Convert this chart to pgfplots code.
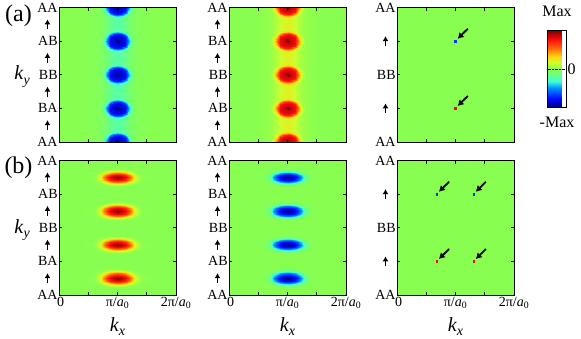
\documentclass[border=0pt]{standalone}
\usepackage{fontspec}
\setmainfont{Liberation Serif}
\usepackage{calc}
\usepackage{pgfplots}
\pgfplotsset{compat=1.18}
\usepackage{pgfplotstable}
\usetikzlibrary{arrows.meta}

\definecolor{bggreen}{rgb}{0.533,1,0.314}

% one period of the round blobs (top row), |value|
\pgfplotstableread[row sep=\\]{
x y v\\
0 -0.13 0\\ 0.4 -0.13 0\\ 0.6 -0.13 0.015\\ 0.7 -0.13 0.035\\ 0.76 -0.13 0.06\\ 0.82 -0.13 0.1\\ 0.88 -0.13 0.16\\ 0.94 -0.13 0.2\\ 1 -0.13 0.22\\ 1.06 -0.13 0.2\\ 1.12 -0.13 0.16\\ 1.18 -0.13 0.1\\ 1.24 -0.13 0.06\\ 1.3 -0.13 0.035\\ 1.4 -0.13 0.015\\ 1.6 -0.13 0\\ 2 -0.13 0\\
0 -0.1 0\\ 0.4 -0.1 0\\ 0.6 -0.1 0.015\\ 0.7 -0.1 0.035\\ 0.76 -0.1 0.06\\ 0.82 -0.1 0.1\\ 0.88 -0.1 0.16\\ 0.94 -0.1 0.2\\ 1 -0.1 0.22\\ 1.06 -0.1 0.2\\ 1.12 -0.1 0.16\\ 1.18 -0.1 0.1\\ 1.24 -0.1 0.06\\ 1.3 -0.1 0.035\\ 1.4 -0.1 0.015\\ 1.6 -0.1 0\\ 2 -0.1 0\\
0 -0.08 0\\ 0.4 -0.08 0\\ 0.6 -0.08 0.015\\ 0.7 -0.08 0.035\\ 0.76 -0.08 0.06\\ 0.82 -0.08 0.1\\ 0.88 -0.08 0.16\\ 0.94 -0.08 0.2\\ 1 -0.08 0.22\\ 1.06 -0.08 0.2\\ 1.12 -0.08 0.16\\ 1.18 -0.08 0.1\\ 1.24 -0.08 0.06\\ 1.3 -0.08 0.035\\ 1.4 -0.08 0.015\\ 1.6 -0.08 0\\ 2 -0.08 0\\
0 -0.065 0\\ 0.4 -0.065 0\\ 0.6 -0.065 0.015\\ 0.7 -0.065 0.035\\ 0.76 -0.065 0.06\\ 0.82 -0.065 0.1\\ 0.88 -0.065 0.19\\ 0.94 -0.065 0.34\\ 1 -0.065 0.41\\ 1.06 -0.065 0.34\\ 1.12 -0.065 0.19\\ 1.18 -0.065 0.1\\ 1.24 -0.065 0.06\\ 1.3 -0.065 0.035\\ 1.4 -0.065 0.015\\ 1.6 -0.065 0\\ 2 -0.065 0\\
0 -0.05 0\\ 0.4 -0.05 0\\ 0.6 -0.05 0.015\\ 0.7 -0.05 0.035\\ 0.76 -0.05 0.06\\ 0.82 -0.05 0.17\\ 0.88 -0.05 0.43\\ 0.94 -0.05 0.69\\ 1 -0.05 0.74\\ 1.06 -0.05 0.69\\ 1.12 -0.05 0.43\\ 1.18 -0.05 0.17\\ 1.24 -0.05 0.06\\ 1.3 -0.05 0.035\\ 1.4 -0.05 0.015\\ 1.6 -0.05 0\\ 2 -0.05 0\\
0 -0.035 0\\ 0.4 -0.035 0\\ 0.6 -0.035 0.015\\ 0.7 -0.035 0.035\\ 0.76 -0.035 0.07\\ 0.82 -0.035 0.3\\ 0.88 -0.035 0.71\\ 0.94 -0.035 0.8\\ 1 -0.035 0.82\\ 1.06 -0.035 0.8\\ 1.12 -0.035 0.71\\ 1.18 -0.035 0.3\\ 1.24 -0.035 0.07\\ 1.3 -0.035 0.035\\ 1.4 -0.035 0.015\\ 1.6 -0.035 0\\ 2 -0.035 0\\
0 -0.02 0\\ 0.4 -0.02 0\\ 0.6 -0.02 0.015\\ 0.7 -0.02 0.035\\ 0.76 -0.02 0.12\\ 0.82 -0.02 0.45\\ 0.88 -0.02 0.78\\ 0.94 -0.02 0.84\\ 1 -0.02 0.86\\ 1.06 -0.02 0.84\\ 1.12 -0.02 0.78\\ 1.18 -0.02 0.45\\ 1.24 -0.02 0.12\\ 1.3 -0.02 0.035\\ 1.4 -0.02 0.015\\ 1.6 -0.02 0\\ 2 -0.02 0\\
0 0 0\\ 0.4 0 0\\ 0.6 0 0.015\\ 0.7 0 0.035\\ 0.76 0 0.15\\ 0.82 0 0.55\\ 0.88 0 0.8\\ 0.94 0 0.86\\ 1 0 1\\ 1.06 0 0.86\\ 1.12 0 0.8\\ 1.18 0 0.55\\ 1.24 0 0.15\\ 1.3 0 0.035\\ 1.4 0 0.015\\ 1.6 0 0\\ 2 0 0\\
0 0.02 0\\ 0.4 0.02 0\\ 0.6 0.02 0.015\\ 0.7 0.02 0.035\\ 0.76 0.02 0.12\\ 0.82 0.02 0.45\\ 0.88 0.02 0.78\\ 0.94 0.02 0.84\\ 1 0.02 0.86\\ 1.06 0.02 0.84\\ 1.12 0.02 0.78\\ 1.18 0.02 0.45\\ 1.24 0.02 0.12\\ 1.3 0.02 0.035\\ 1.4 0.02 0.015\\ 1.6 0.02 0\\ 2 0.02 0\\
0 0.035 0\\ 0.4 0.035 0\\ 0.6 0.035 0.015\\ 0.7 0.035 0.035\\ 0.76 0.035 0.07\\ 0.82 0.035 0.3\\ 0.88 0.035 0.71\\ 0.94 0.035 0.8\\ 1 0.035 0.82\\ 1.06 0.035 0.8\\ 1.12 0.035 0.71\\ 1.18 0.035 0.3\\ 1.24 0.035 0.07\\ 1.3 0.035 0.035\\ 1.4 0.035 0.015\\ 1.6 0.035 0\\ 2 0.035 0\\
0 0.05 0\\ 0.4 0.05 0\\ 0.6 0.05 0.015\\ 0.7 0.05 0.035\\ 0.76 0.05 0.06\\ 0.82 0.05 0.17\\ 0.88 0.05 0.43\\ 0.94 0.05 0.69\\ 1 0.05 0.74\\ 1.06 0.05 0.69\\ 1.12 0.05 0.43\\ 1.18 0.05 0.17\\ 1.24 0.05 0.06\\ 1.3 0.05 0.035\\ 1.4 0.05 0.015\\ 1.6 0.05 0\\ 2 0.05 0\\
0 0.065 0\\ 0.4 0.065 0\\ 0.6 0.065 0.015\\ 0.7 0.065 0.035\\ 0.76 0.065 0.06\\ 0.82 0.065 0.1\\ 0.88 0.065 0.19\\ 0.94 0.065 0.34\\ 1 0.065 0.41\\ 1.06 0.065 0.34\\ 1.12 0.065 0.19\\ 1.18 0.065 0.1\\ 1.24 0.065 0.06\\ 1.3 0.065 0.035\\ 1.4 0.065 0.015\\ 1.6 0.065 0\\ 2 0.065 0\\
0 0.08 0\\ 0.4 0.08 0\\ 0.6 0.08 0.015\\ 0.7 0.08 0.035\\ 0.76 0.08 0.06\\ 0.82 0.08 0.1\\ 0.88 0.08 0.16\\ 0.94 0.08 0.2\\ 1 0.08 0.22\\ 1.06 0.08 0.2\\ 1.12 0.08 0.16\\ 1.18 0.08 0.1\\ 1.24 0.08 0.06\\ 1.3 0.08 0.035\\ 1.4 0.08 0.015\\ 1.6 0.08 0\\ 2 0.08 0\\
0 0.1 0\\ 0.4 0.1 0\\ 0.6 0.1 0.015\\ 0.7 0.1 0.035\\ 0.76 0.1 0.06\\ 0.82 0.1 0.1\\ 0.88 0.1 0.16\\ 0.94 0.1 0.2\\ 1 0.1 0.22\\ 1.06 0.1 0.2\\ 1.12 0.1 0.16\\ 1.18 0.1 0.1\\ 1.24 0.1 0.06\\ 1.3 0.1 0.035\\ 1.4 0.1 0.015\\ 1.6 0.1 0\\ 2 0.1 0\\
0 0.13 0\\ 0.4 0.13 0\\ 0.6 0.13 0.015\\ 0.7 0.13 0.035\\ 0.76 0.13 0.06\\ 0.82 0.13 0.1\\ 0.88 0.13 0.16\\ 0.94 0.13 0.2\\ 1 0.13 0.22\\ 1.06 0.13 0.2\\ 1.12 0.13 0.16\\ 1.18 0.13 0.1\\ 1.24 0.13 0.06\\ 1.3 0.13 0.035\\ 1.4 0.13 0.015\\ 1.6 0.13 0\\ 2 0.13 0\\
}\tabA

% one period of the flat ellipses (bottom row), |value|
\pgfplotstableread[row sep=\\]{
x y v\\
0 -0.13 0\\ 0.4 -0.13 0\\ 0.6 -0.13 0\\ 0.7 -0.13 0\\ 0.76 -0.13 0\\ 0.82 -0.13 0\\ 0.88 -0.13 0\\ 0.94 -0.13 0\\ 1 -0.13 0\\ 1.06 -0.13 0\\ 1.12 -0.13 0\\ 1.18 -0.13 0\\ 1.24 -0.13 0\\ 1.3 -0.13 0\\ 1.4 -0.13 0\\ 1.6 -0.13 0\\ 2 -0.13 0\\
0 -0.1 0\\ 0.4 -0.1 0\\ 0.6 -0.1 0\\ 0.7 -0.1 0\\ 0.76 -0.1 0\\ 0.82 -0.1 0\\ 0.88 -0.1 0\\ 0.94 -0.1 0\\ 1 -0.1 0\\ 1.06 -0.1 0\\ 1.12 -0.1 0\\ 1.18 -0.1 0\\ 1.24 -0.1 0\\ 1.3 -0.1 0\\ 1.4 -0.1 0\\ 1.6 -0.1 0\\ 2 -0.1 0\\
0 -0.08 0\\ 0.4 -0.08 0\\ 0.6 -0.08 0\\ 0.7 -0.08 0\\ 0.76 -0.08 0\\ 0.82 -0.08 0\\ 0.88 -0.08 0\\ 0.94 -0.08 0\\ 1 -0.08 0\\ 1.06 -0.08 0\\ 1.12 -0.08 0\\ 1.18 -0.08 0\\ 1.24 -0.08 0\\ 1.3 -0.08 0\\ 1.4 -0.08 0\\ 1.6 -0.08 0\\ 2 -0.08 0\\
0 -0.065 0\\ 0.4 -0.065 0\\ 0.6 -0.065 0\\ 0.7 -0.065 0\\ 0.76 -0.065 0\\ 0.82 -0.065 0\\ 0.88 -0.065 0.01\\ 0.94 -0.065 0.02\\ 1 -0.065 0.02\\ 1.06 -0.065 0.02\\ 1.12 -0.065 0.01\\ 1.18 -0.065 0\\ 1.24 -0.065 0\\ 1.3 -0.065 0\\ 1.4 -0.065 0\\ 1.6 -0.065 0\\ 2 -0.065 0\\
0 -0.05 0\\ 0.4 -0.05 0\\ 0.6 -0.05 0\\ 0.7 -0.05 0.01\\ 0.76 -0.05 0.03\\ 0.82 -0.05 0.09\\ 0.88 -0.05 0.14\\ 0.94 -0.05 0.18\\ 1 -0.05 0.2\\ 1.06 -0.05 0.18\\ 1.12 -0.05 0.14\\ 1.18 -0.05 0.09\\ 1.24 -0.05 0.03\\ 1.3 -0.05 0.01\\ 1.4 -0.05 0\\ 1.6 -0.05 0\\ 2 -0.05 0\\
0 -0.035 0\\ 0.4 -0.035 0\\ 0.6 -0.035 0\\ 0.7 -0.035 0.06\\ 0.76 -0.035 0.16\\ 0.82 -0.035 0.3\\ 0.88 -0.035 0.43\\ 0.94 -0.035 0.51\\ 1 -0.035 0.54\\ 1.06 -0.035 0.51\\ 1.12 -0.035 0.43\\ 1.18 -0.035 0.3\\ 1.24 -0.035 0.16\\ 1.3 -0.035 0.06\\ 1.4 -0.035 0\\ 1.6 -0.035 0\\ 2 -0.035 0\\
0 -0.02 0\\ 0.4 -0.02 0\\ 0.6 -0.02 0.01\\ 0.7 -0.02 0.14\\ 0.76 -0.02 0.35\\ 0.82 -0.02 0.56\\ 0.88 -0.02 0.7\\ 0.94 -0.02 0.775\\ 1 -0.02 0.8\\ 1.06 -0.02 0.775\\ 1.12 -0.02 0.7\\ 1.18 -0.02 0.56\\ 1.24 -0.02 0.35\\ 1.3 -0.02 0.14\\ 1.4 -0.02 0.01\\ 1.6 -0.02 0\\ 2 -0.02 0\\
0 0 0\\ 0.4 0 0\\ 0.6 0 0.02\\ 0.7 0 0.18\\ 0.76 0 0.45\\ 0.82 0 0.69\\ 0.88 0 0.815\\ 0.94 0 0.92\\ 1 0 1\\ 1.06 0 0.92\\ 1.12 0 0.815\\ 1.18 0 0.69\\ 1.24 0 0.45\\ 1.3 0 0.18\\ 1.4 0 0.02\\ 1.6 0 0\\ 2 0 0\\
0 0.02 0\\ 0.4 0.02 0\\ 0.6 0.02 0.01\\ 0.7 0.02 0.14\\ 0.76 0.02 0.35\\ 0.82 0.02 0.56\\ 0.88 0.02 0.7\\ 0.94 0.02 0.775\\ 1 0.02 0.8\\ 1.06 0.02 0.775\\ 1.12 0.02 0.7\\ 1.18 0.02 0.56\\ 1.24 0.02 0.35\\ 1.3 0.02 0.14\\ 1.4 0.02 0.01\\ 1.6 0.02 0\\ 2 0.02 0\\
0 0.035 0\\ 0.4 0.035 0\\ 0.6 0.035 0\\ 0.7 0.035 0.06\\ 0.76 0.035 0.16\\ 0.82 0.035 0.3\\ 0.88 0.035 0.43\\ 0.94 0.035 0.51\\ 1 0.035 0.54\\ 1.06 0.035 0.51\\ 1.12 0.035 0.43\\ 1.18 0.035 0.3\\ 1.24 0.035 0.16\\ 1.3 0.035 0.06\\ 1.4 0.035 0\\ 1.6 0.035 0\\ 2 0.035 0\\
0 0.05 0\\ 0.4 0.05 0\\ 0.6 0.05 0\\ 0.7 0.05 0.01\\ 0.76 0.05 0.03\\ 0.82 0.05 0.09\\ 0.88 0.05 0.14\\ 0.94 0.05 0.18\\ 1 0.05 0.2\\ 1.06 0.05 0.18\\ 1.12 0.05 0.14\\ 1.18 0.05 0.09\\ 1.24 0.05 0.03\\ 1.3 0.05 0.01\\ 1.4 0.05 0\\ 1.6 0.05 0\\ 2 0.05 0\\
0 0.065 0\\ 0.4 0.065 0\\ 0.6 0.065 0\\ 0.7 0.065 0\\ 0.76 0.065 0\\ 0.82 0.065 0\\ 0.88 0.065 0.01\\ 0.94 0.065 0.02\\ 1 0.065 0.02\\ 1.06 0.065 0.02\\ 1.12 0.065 0.01\\ 1.18 0.065 0\\ 1.24 0.065 0\\ 1.3 0.065 0\\ 1.4 0.065 0\\ 1.6 0.065 0\\ 2 0.065 0\\
0 0.08 0\\ 0.4 0.08 0\\ 0.6 0.08 0\\ 0.7 0.08 0\\ 0.76 0.08 0\\ 0.82 0.08 0\\ 0.88 0.08 0\\ 0.94 0.08 0\\ 1 0.08 0\\ 1.06 0.08 0\\ 1.12 0.08 0\\ 1.18 0.08 0\\ 1.24 0.08 0\\ 1.3 0.08 0\\ 1.4 0.08 0\\ 1.6 0.08 0\\ 2 0.08 0\\
0 0.1 0\\ 0.4 0.1 0\\ 0.6 0.1 0\\ 0.7 0.1 0\\ 0.76 0.1 0\\ 0.82 0.1 0\\ 0.88 0.1 0\\ 0.94 0.1 0\\ 1 0.1 0\\ 1.06 0.1 0\\ 1.12 0.1 0\\ 1.18 0.1 0\\ 1.24 0.1 0\\ 1.3 0.1 0\\ 1.4 0.1 0\\ 1.6 0.1 0\\ 2 0.1 0\\
0 0.13 0\\ 0.4 0.13 0\\ 0.6 0.13 0\\ 0.7 0.13 0\\ 0.76 0.13 0\\ 0.82 0.13 0\\ 0.88 0.13 0\\ 0.94 0.13 0\\ 1 0.13 0\\ 1.06 0.13 0\\ 1.12 0.13 0\\ 1.18 0.13 0\\ 1.24 0.13 0\\ 1.3 0.13 0\\ 1.4 0.13 0\\ 1.6 0.13 0\\ 2 0.13 0\\
}\tabB

\newcommand{\upar}{\makebox[\widthof{AA}]{\tikz[baseline=0pt]\draw[-{Latex[length=5pt,width=6pt]},line width=1.8pt] (0,-5pt)--(0,5pt);}}
\newcommand{\ky}{\fontsize{20}{22}\selectfont\textit{k}\raisebox{-0.22em}{\fontsize{14}{15}\selectfont\textit{y}}}
\newcommand{\kx}{\fontsize{20}{22}\selectfont\textit{k}\raisebox{-0.22em}{\fontsize{14}{15}\selectfont\textit{x}}}
\newcommand{\pia}{π/\textit{a}\textsubscript{0}}

\pgfplotsset{
  colormap={hm}{rgb(0pt)=(0,0,0.5); rgb(120pt)=(0,0.05,1); rgb(250pt)=(0,0.55,1); rgb(340pt)=(0.25,1,0.85); rgb(420pt)=(0.4,1,0.55); rgb(500pt)=(0.533,1,0.314); rgb(580pt)=(0.8,1,0.18); rgb(660pt)=(1,0.85,0.05); rgb(760pt)=(1,0.45,0.05); rgb(880pt)=(1,0.05,0.05); rgb(1000pt)=(0.5,0,0)},
  panel/.style={
    scale only axis, width=117pt, height=134.5pt,
    xmin=0, xmax=2, ymin=0, ymax=1,
    anchor=south west,
    axis on top,
    axis background/.style={fill=bggreen},
    tick align=inside, tick pos=both,
    major tick length=3pt,
    tick style={black, line width=0.7pt},
    axis line style={line width=0.9pt, black},
    xtick={0,0.5,1,1.5,2},
    ytick={0,0.25,0.5,0.75,1},
    tick label style={font=\fontsize{14}{15.5}\selectfont},
    yticklabel style={inner sep=1.2pt},
    xticklabel style={inner sep=2pt},
    point meta min=-1, point meta max=1,
  },
  arrowsy/.style={
    extra y ticks={0.125,0.375,0.625,0.875},
    extra y tick labels={\upar,\upar,\upar,\upar},
    extra y tick style={major tick length=0pt},
  },
  toprow/.style={xticklabels={,,,,}},
  botrow/.style={xticklabels={\hspace*{3pt}0,,\pia,,2\pia},
    xlabel={\kx}, xlabel style={at={(axis description cs:0.5,0)}, anchor=base, yshift=-36pt}},
  kylab/.style={ylabel={\ky}, ylabel style={rotate=-90, at={(axis description cs:-0.316,0.485)}, anchor=center}},
  heat/.style={surf, shader=interp, mesh/cols=17, mesh/ordering=x varies},
  qv/.style={black, line width=1.8pt, -{Latex[length=6pt,width=7pt]}, quiver={u=\thisrow{u}, v=\thisrow{v}}},
  dot/.style={only marks, mark=square*, mark size=0.9pt},
}

\begin{document}
\begin{tikzpicture}
\path[use as bounding box] (0pt,0pt) rectangle (581pt,-338pt);

\node[font=\fontsize{24}{26}\selectfont] at (18.5pt,-16pt) {(a)};
\node[font=\fontsize{24}{26}\selectfont] at (18.5pt,-168pt) {(b)};

% (a) left
\begin{axis}[panel, toprow, kylab, arrowsy, at={(59pt,-142pt)},
  yticklabels={AA,BA,BB,AB,AA}]
\pgfplotsinvokeforeach{0,0.25,0.5,0.75,1}{
  \addplot[heat, point meta=-\thisrow{v}] table[x=x, y expr=\thisrow{y}+#1] {\tabA};
}
\end{axis}

% (a) middle
\begin{axis}[panel, toprow, arrowsy, at={(229pt,-142pt)},
  yticklabels={AA,AB,BB,BA,AA}]
\pgfplotsinvokeforeach{0,0.25,0.5,0.75,1}{
  \addplot[heat, point meta=\thisrow{v}] table[x=x, y expr=\thisrow{y}+#1] {\tabA};
}
\end{axis}

% (a) right
\begin{axis}[panel, toprow, at={(397pt,-142pt)},
  yticklabels={AA,\upar,BB,\upar,AA},
  colorbar,
  colorbar style={
    at={(parent axis.north east)}, anchor=north west, xshift=25pt, yshift=-23pt,
    scale only axis, width=19pt, height=77pt,
    axis on top,
    ytick={0}, yticklabels={0},
    ymajorgrids, major grid style={densely dotted, black, line width=0.9pt},
    major tick length=0pt, tick style={draw=none},
    axis line style={line width=0.6pt, black},
    yticklabel style={font=\fontsize{16}{17}\selectfont, inner sep=1pt},
    title={Max}, title style={at={(0.5,1)}, anchor=base, yshift=8pt, font=\fontsize{16}{17}\selectfont},
    xlabel={-Max}, xlabel style={at={(axis description cs:0.5,0)}, anchor=base, yshift=-20pt, font=\fontsize{16}{17}\selectfont},
  }]
\addplot[dot, color={rgb,1:red,0.05;green,0.2;blue,1}] coordinates {(1,0.75)};
\addplot[dot, color=red] coordinates {(1,0.25)};
\addplot[qv] table[row sep=\\] {x y u v\\ 1.21 0.842 -0.175 -0.075\\ 1.21 0.342 -0.175 -0.075\\};
\end{axis}

% (b) left
\begin{axis}[panel, botrow, kylab, arrowsy, at={(59pt,-295pt)},
  yticklabels={AA,BA,BB,AB,AA}]
\pgfplotsinvokeforeach{0.125,0.375,0.625,0.875}{
  \addplot[heat, point meta=\thisrow{v}] table[x=x, y expr=\thisrow{y}+#1] {\tabB};
}
\end{axis}

% (b) middle
\begin{axis}[panel, botrow, arrowsy, at={(229pt,-295pt)},
  yticklabels={AA,AB,BB,BA,AA}]
\pgfplotsinvokeforeach{0.125,0.375,0.625,0.875}{
  \addplot[heat, point meta=-\thisrow{v}] table[x=x, y expr=\thisrow{y}+#1] {\tabB};
}
\end{axis}

% (b) right
\begin{axis}[panel, botrow, at={(397pt,-295pt)},
  yticklabels={AA,\upar,BB,\upar,AA}]
\addplot[dot, color={rgb,1:red,0.05;green,0.2;blue,1}] coordinates {(0.68,0.75) (1.31,0.75)};
\addplot[dot, color=red] coordinates {(0.68,0.25) (1.31,0.25)};
\addplot[qv] table[row sep=\\] {x y u v\\ 0.89 0.842 -0.175 -0.075\\ 1.52 0.842 -0.175 -0.075\\ 0.89 0.342 -0.175 -0.075\\ 1.52 0.342 -0.175 -0.075\\};
\end{axis}

\end{tikzpicture}
\end{document}
